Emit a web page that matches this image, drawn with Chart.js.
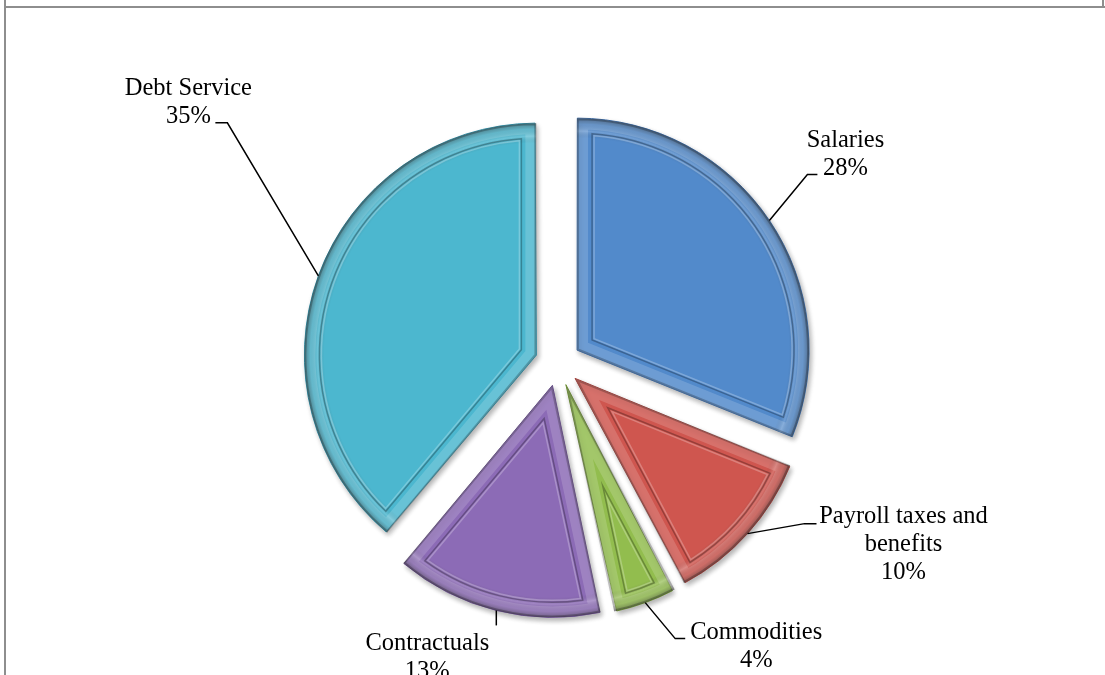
<!DOCTYPE html>
<html>
<head>
<meta charset="utf-8">
<script src="https://cdn.jsdelivr.net/npm/chart.js@4"></script>
<style>
  html, body { margin: 0; padding: 0; background: #fff; }
  canvas { display: block; }
</style>
</head>
<body>
<canvas id="chart" width="1105" height="675"></canvas>
<script>
const categories = ['Salaries', 'Payroll taxes and benefits', 'Commodities', 'Contractuals', 'Debt Service'];
const shares = [28, 10, 4, 13, 35];

const fillColors = ['#528ACB', '#CF564F', '#92BD4E', '#8C6BB6', '#4CB7CF'];
const edgeColors = ['#3A6AA6', '#A33C36', '#6E9232', '#674A8C', '#2F8EA6'];

const PIE_R = 232;

// leader line / text placement relative to the slice rim point
const labelLayout = [
  { elbow: [38, -46], tail: 10, text: [28, -27] },
  { elbow: [57, -10], tail: 12, text: [87, -1] },
  { elbow: [30, 36], tail: 10, text: [71, 0] },
  { elbow: [0, 15], tail: 0, text: [-69, 25] },
  { elbow: [-91, -153], tail: -12, text: [-27, -28] }
];

const FONT = '24.5px "Liberation Serif", "Times New Roman", serif';
const LINE_H = 28;

function radiusGrowth(el) {
  // chart.js enlarges exploded slices a bit, depending on their size
  const off = (el.options.offset || 0) / 4;
  return off * (1 - Math.sin(Math.min(Math.PI, el.circumference)));
}

function sliceGeom(el) {
  const p = el.getProps(['x', 'y', 'startAngle', 'endAngle', 'outerRadius'], true);
  const off = (el.options.offset || 0) / 4;
  const mid = (p.startAngle + p.endAngle) / 2;
  const cx = p.x + Math.cos(mid) * off;
  const cy = p.y + Math.sin(mid) * off;
  const r = p.outerRadius + radiusGrowth(el);
  return { cx, cy, r, start: p.startAngle, end: p.endAngle, mid };
}

function sectorPath(ctx, g) {
  ctx.beginPath();
  ctx.moveTo(g.cx, g.cy);
  ctx.arc(g.cx, g.cy, g.r, g.start, g.end);
  ctx.closePath();
}

// sector shrunk inward by d pixels
function insetPath(ctx, g, d) {
  const half = (g.end - g.start) / 2;
  const k = d / Math.sin(half);
  const px = g.cx + Math.cos(g.mid) * k, py = g.cy + Math.sin(g.mid) * k;
  const rr = g.r - d;
  const hit = (a) => {
    const ux = Math.cos(a), uy = Math.sin(a);
    const wx = px - g.cx, wy = py - g.cy;
    const b = wx * ux + wy * uy;
    const t = -b + Math.sqrt(b * b - (wx * wx + wy * wy) + rr * rr);
    const qx = px + ux * t, qy = py + uy * t;
    return { qx, qy, ang: Math.atan2(qy - g.cy, qx - g.cx) };
  };
  const h1 = hit(g.start), h2 = hit(g.end);
  ctx.beginPath();
  ctx.moveTo(px, py);
  ctx.lineTo(h1.qx, h1.qy);
  ctx.arc(g.cx, g.cy, rr, h1.ang, h2.ang);
  ctx.closePath();
}

const framePlugin = {
  id: 'frame',
  beforeDraw(chart) {
    const ctx = chart.ctx;
    ctx.save();
    ctx.strokeStyle = '#8e8e8e';
    ctx.lineWidth = 2;
    ctx.beginPath();
    ctx.moveTo(5, 0); ctx.lineTo(5, chart.height);
    ctx.moveTo(5, 7); ctx.lineTo(chart.width, 7);
    ctx.moveTo(1103, 0); ctx.lineTo(1103, 7);
    ctx.stroke();
    ctx.restore();
  }
};

const bevelPlugin = {
  id: 'bevel',
  afterDatasetsUpdate(chart) {
    // keep every exploded slice at the same radius
    chart.getDatasetMeta(0).data.forEach((el) => {
      el.outerRadius = PIE_R - radiusGrowth(el);
    });
  },
  beforeDatasetsDraw(chart) {
    const ctx = chart.ctx;
    ctx.save();
    ctx.shadowColor = 'rgba(0,0,0,0.3)';
    ctx.shadowBlur = 5;
    ctx.shadowOffsetX = 2;
    ctx.shadowOffsetY = 3;
  },
  afterDatasetsDraw(chart) {
    const ctx = chart.ctx;
    ctx.restore();
    chart.getDatasetMeta(0).data.forEach((el) => {
      const g = sliceGeom(el);
      ctx.save();
      sectorPath(ctx, g);
      ctx.clip();
      // rounded rim
      const rim = ctx.createRadialGradient(g.cx, g.cy, g.r - 20, g.cx, g.cy, g.r);
      rim.addColorStop(0, 'rgba(0,0,0,0)');
      rim.addColorStop(0.35, 'rgba(255,255,255,0.18)');
      rim.addColorStop(0.7, 'rgba(0,0,0,0.05)');
      rim.addColorStop(1, 'rgba(0,0,0,0.38)');
      ctx.fillStyle = rim;
      sectorPath(ctx, g);
      ctx.fill();
      // straight edge bevel
      sectorPath(ctx, g);
      ctx.lineJoin = 'miter';
      ctx.strokeStyle = 'rgba(255,255,255,0.16)';
      ctx.lineWidth = 22;
      ctx.stroke();
      ctx.strokeStyle = 'rgba(0,0,0,0.22)';
      ctx.lineWidth = 4;
      ctx.stroke();
      // inner panel lines
      insetPath(ctx, g, 15);
      ctx.strokeStyle = 'rgba(0,0,0,0.28)';
      ctx.lineWidth = 1.5;
      ctx.stroke();
      insetPath(ctx, g, 17);
      ctx.strokeStyle = 'rgba(255,255,255,0.25)';
      ctx.lineWidth = 1.5;
      ctx.stroke();
      ctx.restore();
    });
  }
};

function wrapText(ctx, str, maxW) {
  const words = str.split(' ');
  const lines = [];
  let cur = '';
  words.forEach((w) => {
    const test = cur ? cur + ' ' + w : w;
    if (cur && ctx.measureText(test).width > maxW) {
      lines.push(cur);
      cur = w;
    } else {
      cur = test;
    }
  });
  if (cur) lines.push(cur);
  return lines;
}

const labelPlugin = {
  id: 'sliceLabels',
  afterDraw(chart) {
    const ctx = chart.ctx;
    const meta = chart.getDatasetMeta(0);
    ctx.save();
    ctx.font = FONT;
    ctx.fillStyle = '#000';
    ctx.strokeStyle = '#000';
    ctx.lineWidth = 1.5;
    ctx.textAlign = 'center';
    ctx.textBaseline = 'alphabetic';
    meta.data.forEach((el, i) => {
      const g = sliceGeom(el);
      const lay = labelLayout[i];
      const sx = g.cx + Math.cos(g.mid) * g.r;
      const sy = g.cy + Math.sin(g.mid) * g.r;
      const ex = sx + lay.elbow[0], ey = sy + lay.elbow[1];
      const tx = ex + lay.tail;
      ctx.beginPath();
      ctx.moveTo(sx, sy);
      ctx.lineTo(ex, ey);
      ctx.lineTo(tx, ey);
      ctx.stroke();
      const lines = wrapText(ctx, chart.data.labels[i], 185);
      lines.push(chart.data.datasets[0].data[i] + '%');
      lines.forEach((ln, j) => {
        ctx.fillText(ln, tx + lay.text[0], ey + lay.text[1] + j * LINE_H);
      });
    });
    ctx.restore();
  }
};

new Chart(document.getElementById('chart'), {
  type: 'pie',
  data: {
    labels: categories,
    datasets: [{
      data: shares,
      backgroundColor: fillColors,
      borderColor: edgeColors,
      borderWidth: 1,
      offset: 92,
      hoverOffset: 92,
      radius: PIE_R
    }]
  },
  options: {
    responsive: false,
    animation: false,
    events: [],
    layout: { padding: { left: 11, right: 0, top: 51, bottom: 0 } },
    plugins: {
      legend: { display: false },
      tooltip: { enabled: false }
    }
  },
  plugins: [framePlugin, bevelPlugin, labelPlugin]
});
</script>
</body>
</html>
